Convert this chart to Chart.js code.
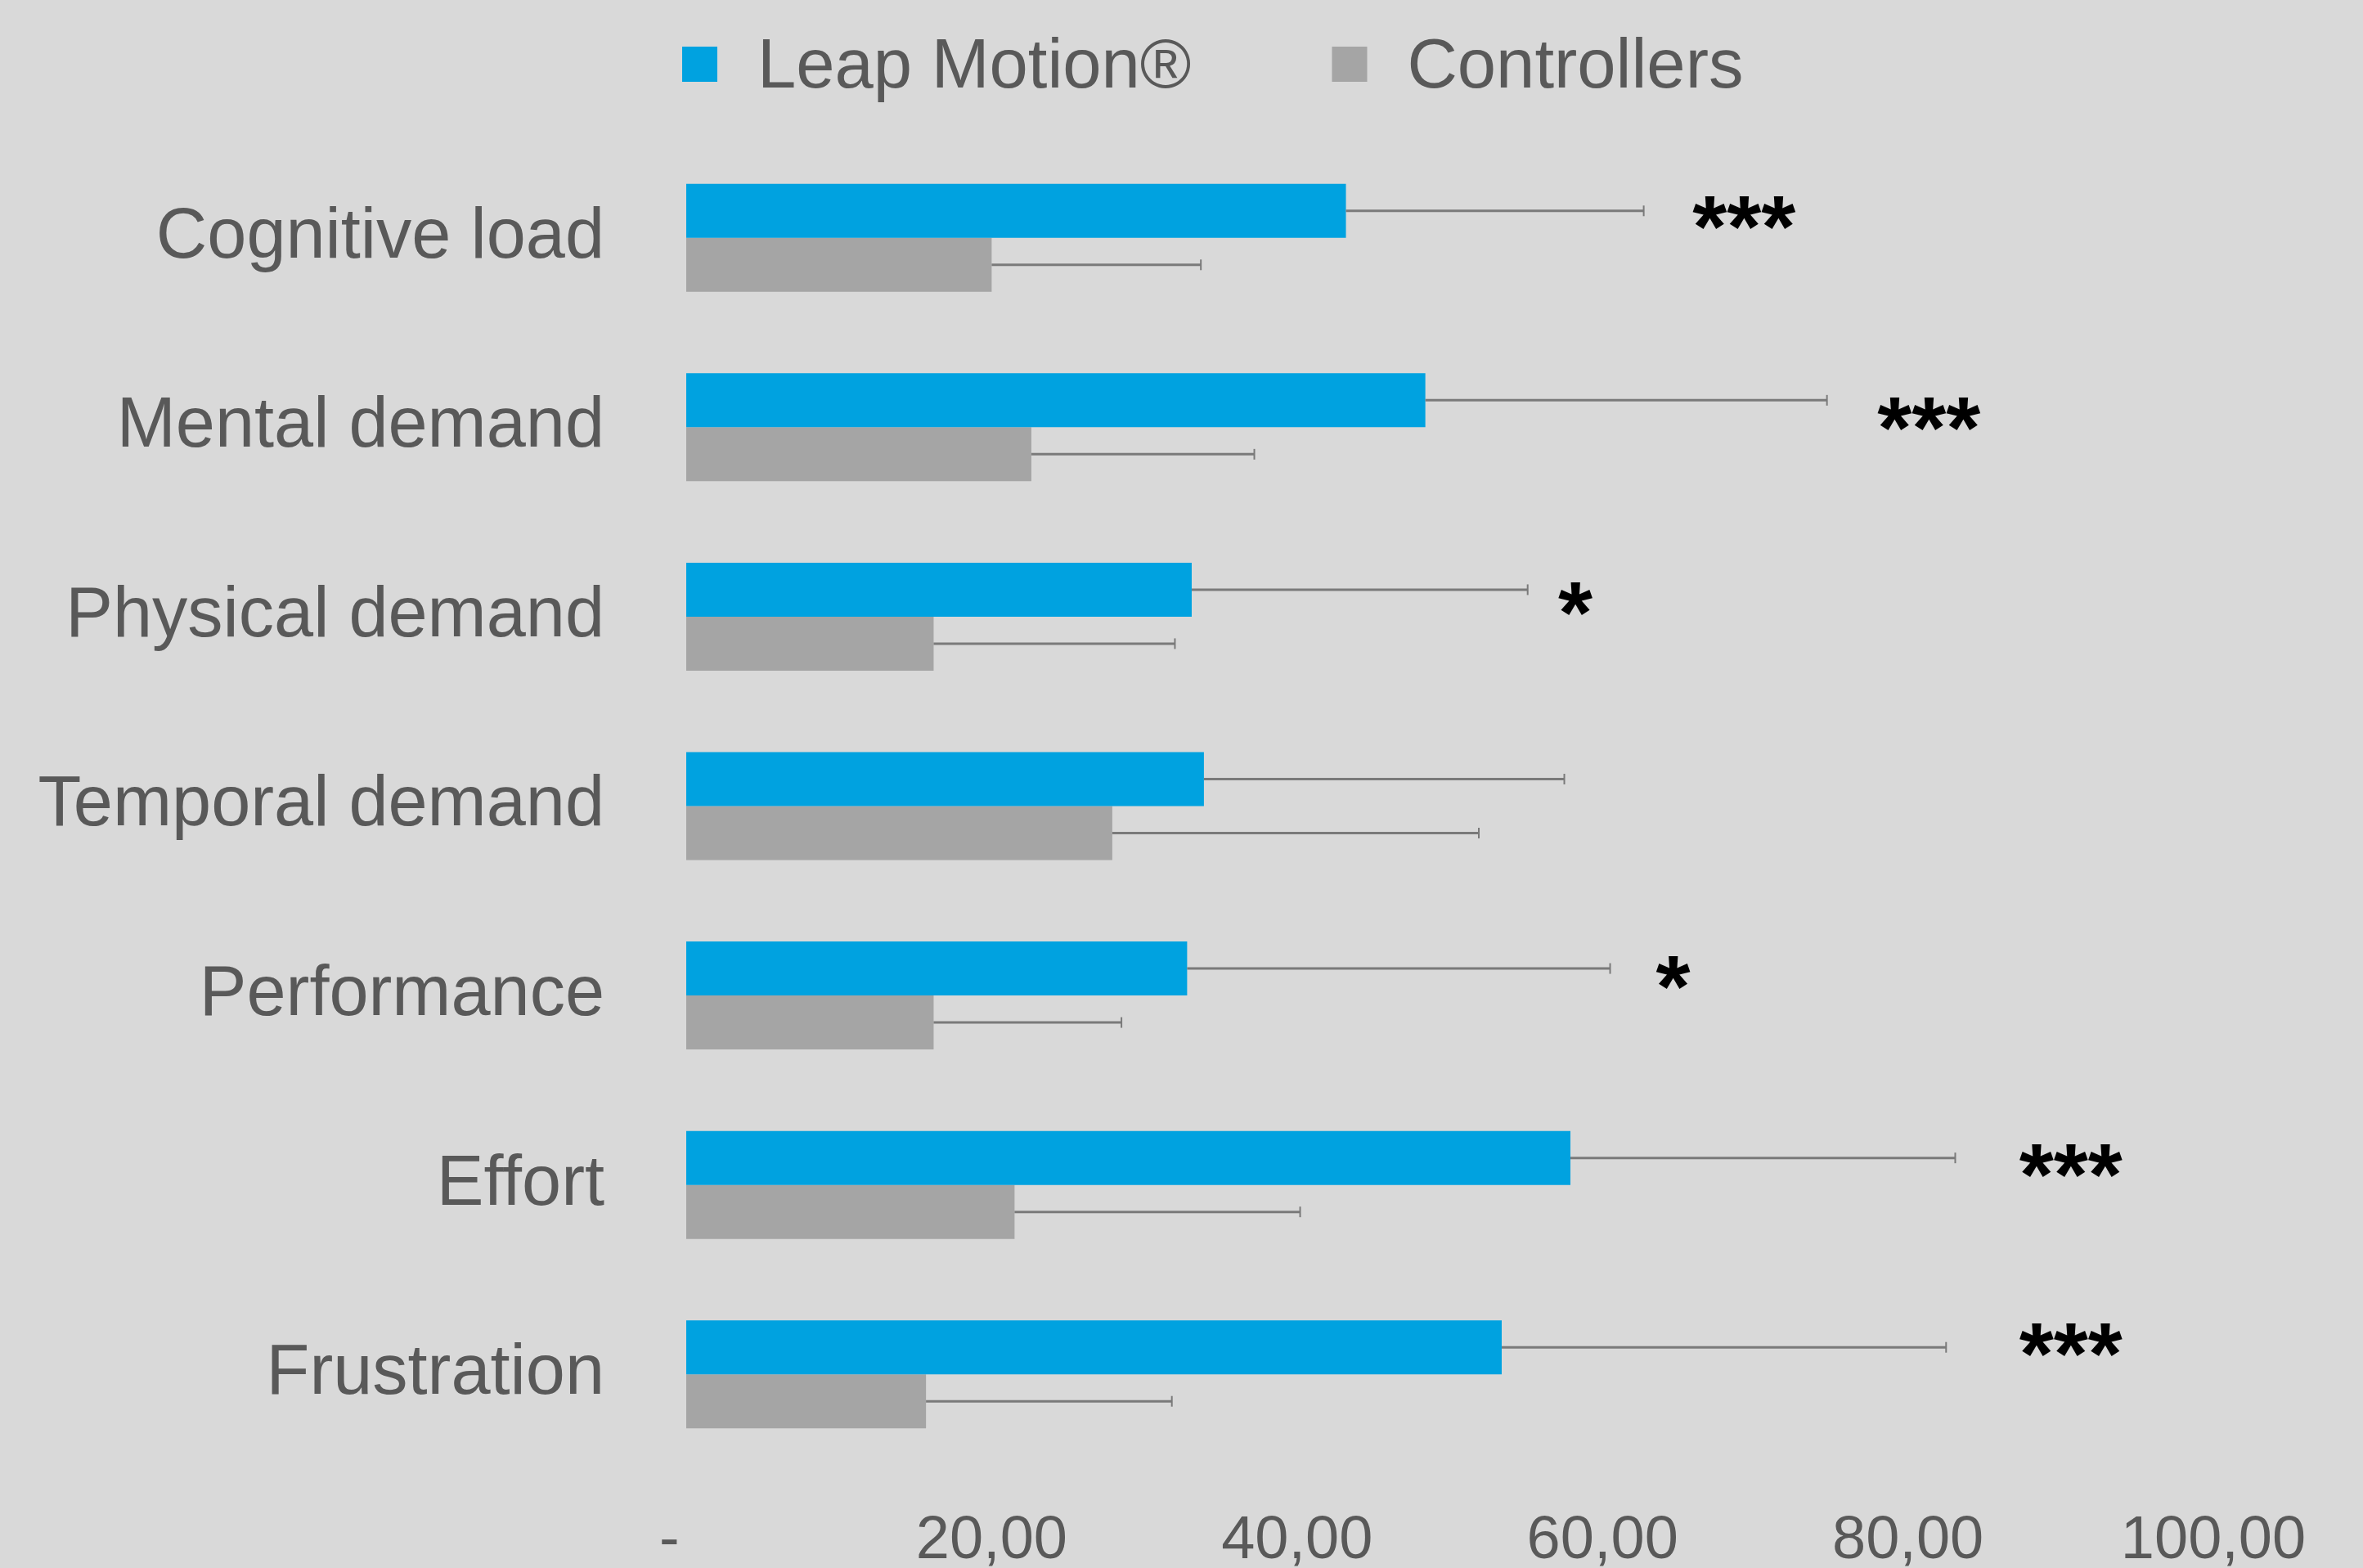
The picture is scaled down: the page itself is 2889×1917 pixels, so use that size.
<!DOCTYPE html>
<html>
<head>
<meta charset="utf-8">
<script src="https://cdn.jsdelivr.net/npm/chart.js@4.4.1/dist/chart.umd.min.js"></script>
<style>
html,body{margin:0;padding:0;background:#d9d9d9;overflow:hidden}
#wrap{width:2889px;height:1917px;position:relative}
</style>
</head>
<body>
<div id="wrap"><canvas id="c"></canvas></div>
<script>
// ---- data ----
const categories = ['Cognitive load','Mental demand','Physical demand','Temporal demand','Performance','Effort','Frustration'];
const seriesNames = ['Leap Motion®','Controllers'];
const leapMotion   = [43.2, 48.4, 33.1, 33.9, 32.8, 57.9, 53.4];
const leapMotionSD = [19.5, 26.3, 22.0, 23.6, 27.7, 25.2, 29.1];
const controllers   = [20.0, 22.6, 16.2, 27.9, 16.2, 21.5, 15.7];
const controllersSD = [13.7, 14.6, 15.8, 24.0, 12.3, 18.7, 16.1];
const xTickLabels = ['-  ', '20,00', '40,00', '60,00', '80,00', '100,00'];
const sigLabels = ['***', '***', '*', '', '*', '***', '***'];
const sigX = [66.0, 78.1, 57.2, null, 63.6, 87.4, 87.4];        // value-axis position of the marks
const sigY = [-0.162, -0.099, -0.123, null, -0.151, -0.158, -0.212]; // offset in category units

const seriesColors = ['#00A2E0', '#A5A5A5'];
const textColor = '#595959';
const FONT = '"Liberation Sans", Arial, sans-serif';

const bgPlugin = {
  id: 'bg',
  beforeDraw(chart) {
    const ctx = chart.ctx;
    ctx.save();
    ctx.fillStyle = '#d9d9d9';
    ctx.fillRect(0, 0, chart.width, chart.height);
    ctx.restore();
  }
};

const errPlugin = {
  id: 'errbars',
  afterDatasetsDraw(chart) {
    const ctx = chart.ctx;
    const xs = chart.scales.x;
    const sds = [leapMotionSD, controllersSD];
    ctx.save();
    chart.data.datasets.forEach((ds, di) => {
      const meta = chart.getDatasetMeta(di);
      meta.data.forEach((el, i) => {
        const x0 = el.x;
        const x1 = xs.getPixelForValue(ds.data[i] + sds[di][i]);
        const y = el.y;
        ctx.strokeStyle = '#7a7a7a';
        ctx.lineWidth = 3;
        ctx.beginPath();
        ctx.moveTo(x0, y);
        ctx.lineTo(x1, y);
        ctx.stroke();
        ctx.lineWidth = 2;
        ctx.beginPath();
        ctx.moveTo(x1, y - 6.5);
        ctx.lineTo(x1, y + 6.5);
        ctx.stroke();
      });
    });
    // significance marks
    const ys = chart.scales.y;
    const band = ys.getPixelForValue(1) - ys.getPixelForValue(0);
    ctx.fillStyle = '#000000';
    ctx.font = 'bold 108px ' + FONT;
    ctx.textAlign = 'left';
    ctx.textBaseline = 'alphabetic';
    sigLabels.forEach((s, i) => {
      if (!s) return;
      const x = xs.getPixelForValue(sigX[i]) - 2;
      const yc = ys.getPixelForValue(i) + sigY[i] * band;
      ctx.fillText(s, x, yc + 61);
    });
    ctx.restore();
  }
};

const legendPlugin = {
  id: 'customLegend',
  afterDraw(chart) {
    const ctx = chart.ctx;
    ctx.save();
    ctx.font = '85px ' + FONT;
    ctx.textBaseline = 'alphabetic';
    ctx.textAlign = 'left';
    let x = 834;
    const box = 43, boxTop = 57, baseline = 107, gapText = 49, gapItem = 172;
    seriesNames.forEach((name, i) => {
      ctx.fillStyle = seriesColors[i];
      ctx.fillRect(x, boxTop, box, box);
      ctx.fillStyle = textColor;
      ctx.fillText(name, x + box + gapText, baseline);
      x += box + gapText + ctx.measureText(name).width + gapItem;
    });
    ctx.restore();
  }
};

new Chart(document.getElementById('c'), {
  type: 'bar',
  data: {
    labels: categories,
    datasets: [
      { label: seriesNames[0], data: leapMotion, backgroundColor: seriesColors[0], borderWidth: 0 },
      { label: seriesNames[1], data: controllers, backgroundColor: seriesColors[1], borderWidth: 0 }
    ]
  },
  options: {
    indexAxis: 'y',
    responsive: true,
    maintainAspectRatio: false,
    animation: false,
    devicePixelRatio: 1,
    categoryPercentage: 0.57,
    barPercentage: 1.0,
    layout: { padding: { top: 175, right: 183, left: 0, bottom: 0 } },
    plugins: {
      legend: { display: false },
      tooltip: { enabled: false }
    },
    scales: {
      x: {
        min: 0, max: 100,
        grid: { display: false, drawTicks: false },
        border: { display: false },
        ticks: {
          stepSize: 20,
          padding: 44,
          color: textColor,
          font: { size: 74, family: FONT },
          maxRotation: 0,
          callback: (v) => xTickLabels[Math.round(v / 20)]
        },
        afterFit: (s) => { s.height = 121; s.paddingLeft = 0; s.paddingRight = 0; }
      },
      y: {
        grid: { display: false, drawTicks: false },
        border: { display: false },
        ticks: {
          padding: 100,
          color: textColor,
          font: { size: 86.5, family: FONT }
        },
        afterFit: (s) => { s.width = 839; s.paddingTop = 0; s.paddingBottom = 0; }
      }
    }
  },
  plugins: [bgPlugin, errPlugin, legendPlugin]
});
</script>
</body>
</html>
